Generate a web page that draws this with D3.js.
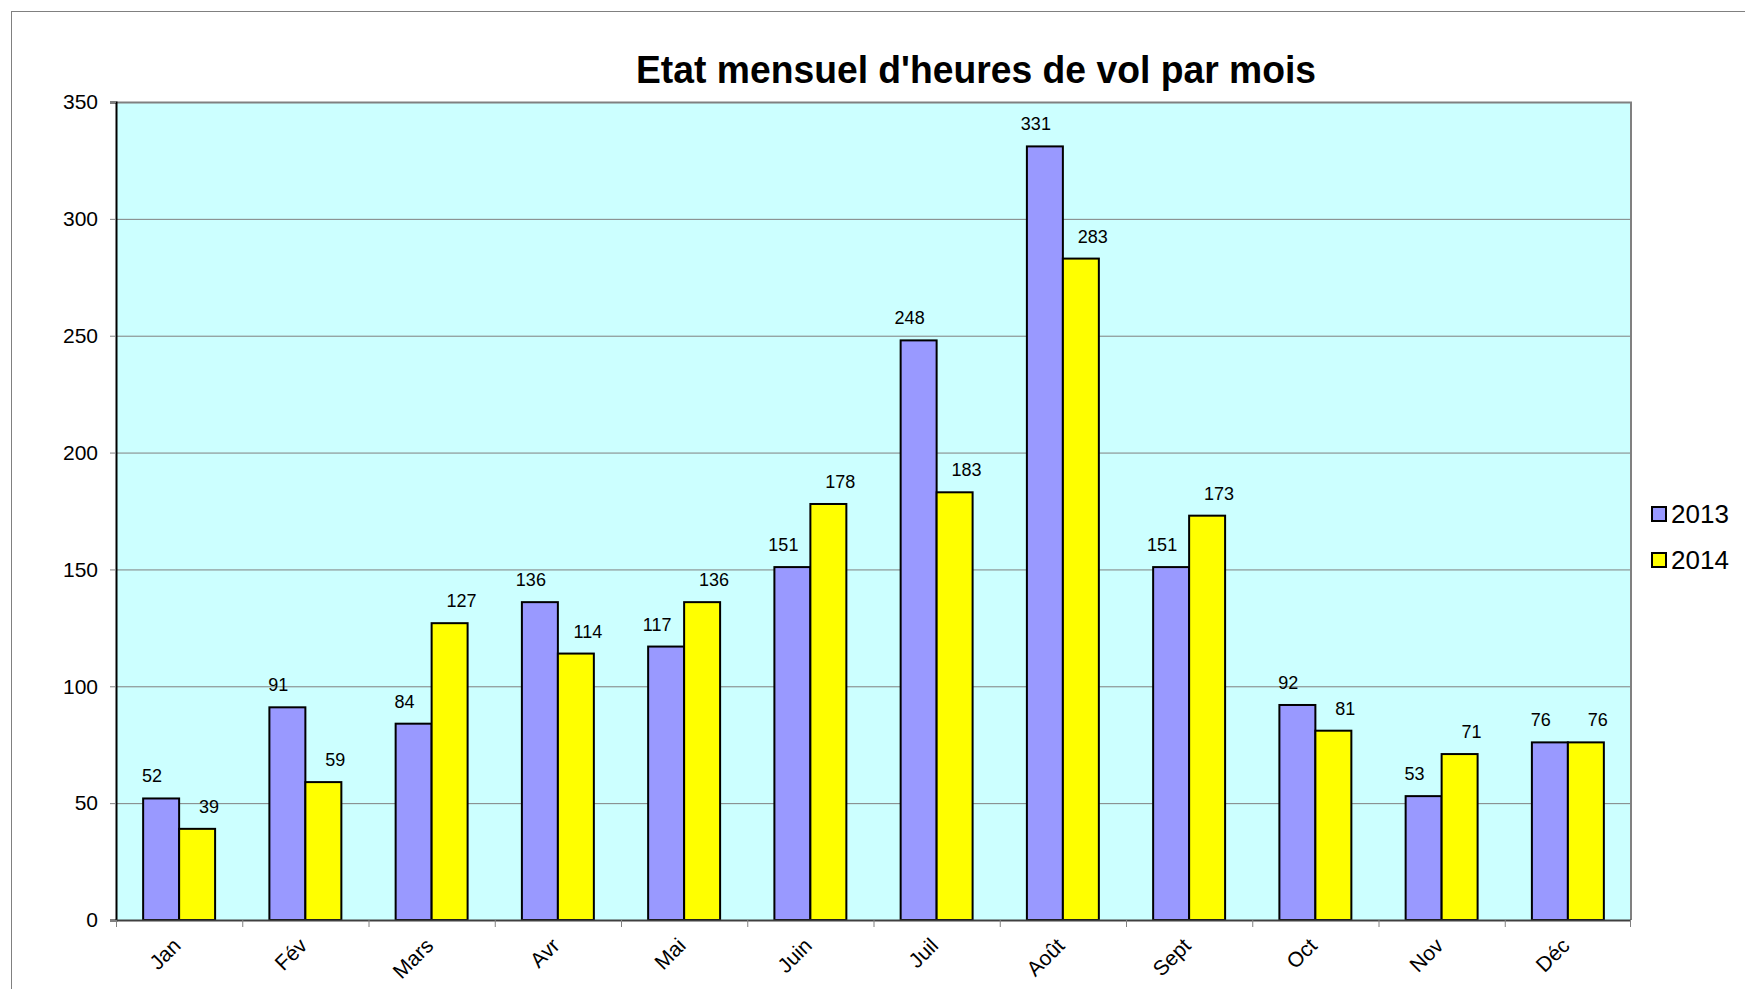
<!DOCTYPE html>
<html>
<head>
<meta charset="utf-8">
<script src="https://cdn.jsdelivr.net/npm/d3@7"></script>
<style>
  body { margin: 0; background: #fff; }
  text { font-family: "Liberation Sans", Arial, sans-serif; fill: #000; }
</style>
</head>
<body>
<svg class="chart"></svg>
<script>
var months = ["Jan", "Fév", "Mars", "Avr", "Mai", "Juin", "Juil", "Août", "Sept", "Oct", "Nov", "Déc"];
var years = ["2013", "2014"];
var hours2013 = [52, 91, 84, 136, 117, 151, 248, 331, 151, 92, 53, 76];
var hours2014 = [39, 59, 127, 114, 136, 178, 183, 283, 173, 81, 71, 76];
var yTicks = [0, 50, 100, 150, 200, 250, 300, 350];
var colors = ["#9999ff", "#ffff00"];

var W = 1745, H = 989;
var plot = {left: 116, top: 102, right: 1631, bottom: 920};

var svg = d3.select(".chart")
    .attr("width", W)
    .attr("height", H);

// outer frame (runs off the right and bottom)
svg.append("rect")
    .attr("x", 11.5).attr("y", 11.5)
    .attr("width", 2000).attr("height", 2000)
    .attr("fill", "none")
    .attr("stroke", "#808080")
    .attr("stroke-width", 1);

var series = years.map(function(y, i) {
  return {year: y, values: i === 0 ? hours2013 : hours2014, color: colors[i]};
});

// scales
var xScale = d3.scaleBand().domain(months).range([plot.left, plot.right]).padding(0),
    xInner = d3.scaleBand().domain(years)
      .range([0, xScale.bandwidth() * 0.57]).padding(0),
    yScale = d3.scaleLinear().domain([0, 350]).range([plot.bottom, plot.top]);

var groupOffset = (xScale.bandwidth() - xInner.range()[1]) / 2;

// plot background
svg.append("rect")
    .attr("x", plot.left).attr("y", plot.top)
    .attr("width", plot.right - plot.left)
    .attr("height", plot.bottom - plot.top)
    .attr("fill", "#ccffff");

// gridlines
svg.append("g")
    .selectAll("line")
    .data(yTicks.filter(function(t) { return t > 0; }))
  .enter().append("line")
    .attr("x1", plot.left).attr("x2", plot.right)
    .attr("y1", function(d) { return yScale(d) + 0.5; })
    .attr("y2", function(d) { return yScale(d) + 0.5; })
    .attr("stroke", "#808080")
    .attr("stroke-width", 1);

// plot border top + right
svg.append("path")
    .attr("d", "M" + plot.left + "," + (plot.top + 0.5) + "H" + (plot.right) + "V" + plot.bottom)
    .attr("fill", "none")
    .attr("stroke", "#808080")
    .attr("stroke-width", 2);

// bars
var groups = svg.append("g")
    .selectAll("g")
    .data(series)
  .enter().append("g");

groups.selectAll("rect")
    .data(function(s) { return s.values.map(function(v, i) { return {m: months[i], v: v, s: s}; }); })
  .enter().append("rect")
    .attr("x", function(d) { return xScale(d.m) + groupOffset + xInner(d.s.year); })
    .attr("y", function(d) { return yScale(d.v); })
    .attr("width", xInner.bandwidth())
    .attr("height", function(d) { return yScale(0) - yScale(d.v); })
    .attr("fill", function(d) { return d.s.color; })
    .attr("stroke", "#000")
    .attr("stroke-width", 2);

// value labels
groups.selectAll("text")
    .data(function(s) { return s.values.map(function(v, i) { return {m: months[i], v: v, s: s}; }); })
  .enter().append("text")
    .attr("x", function(d) {
      var dx = d.s.year === "2013" ? -9 : 12;
      return xScale(d.m) + groupOffset + xInner(d.s.year) + xInner.bandwidth() / 2 + dx;
    })
    .attr("y", function(d) { return yScale(d.v) - 16; })
    .style("text-anchor", "middle")
    .style("font-size", "18px")
    .text(function(d) { return d.v; });

// y-axis
var yAxis = svg.append("g")
    .attr("transform", "translate(" + plot.left + ",0)")
    .call(d3.axisLeft(yScale).tickValues(yTicks).tickSize(6).tickPadding(12));
yAxis.select(".domain").attr("stroke", "#000").attr("stroke-width", 2);
yAxis.selectAll(".tick line").attr("stroke", "#808080");
yAxis.selectAll("text").style("font-size", "21px").style("font-family", "Liberation Sans, Arial, sans-serif");

// x-axis
var xAxis = svg.append("g")
    .attr("transform", "translate(0," + plot.bottom + ")");
xAxis.append("line")
    .attr("x1", plot.left).attr("x2", plot.right)
    .attr("y1", 0.5).attr("y2", 0.5)
    .attr("stroke", "#404040")
    .attr("stroke-width", 2);
xAxis.selectAll(".xtick")
    .data(months.concat(["_end"]))
  .enter().append("line")
    .attr("x1", function(d, i) { return i < months.length ? xScale(d) + 0.5 : plot.right - 0.5; })
    .attr("x2", function(d, i) { return i < months.length ? xScale(d) + 0.5 : plot.right - 0.5; })
    .attr("y1", 0).attr("y2", 7)
    .attr("stroke", "#808080");
xAxis.selectAll(".xlabel")
    .data(months)
  .enter().append("text")
    .attr("transform", function(d) {
      return "translate(" + (xScale(d) + xScale.bandwidth() / 2 + 3) + ",27) rotate(-45)";
    })
    .style("text-anchor", "end")
    .style("font-size", "21px")
    .text(function(d) { return d; });

// title
svg.append("text")
    .attr("x", 976)
    .attr("y", 83)
    .style("text-anchor", "middle")
    .style("font-size", "38px")
    .style("font-weight", "bold")
    .attr("textLength", 680)
    .attr("lengthAdjust", "spacingAndGlyphs")
    .text("Etat mensuel d'heures de vol par mois");

// legend
var legend = svg.append("g")
    .selectAll("g")
    .data(series)
  .enter().append("g")
    .attr("transform", function(d, i) { return "translate(1652," + (507 + i * 46) + ")"; });
legend.append("rect")
    .attr("width", 14).attr("height", 14)
    .attr("fill", function(d) { return d.color; })
    .attr("stroke", "#000")
    .attr("stroke-width", 2);
legend.append("text")
    .attr("x", 19)
    .attr("y", 16)
    .style("font-size", "26px")
    .text(function(d) { return d.year; });
</script>
</body>
</html>
